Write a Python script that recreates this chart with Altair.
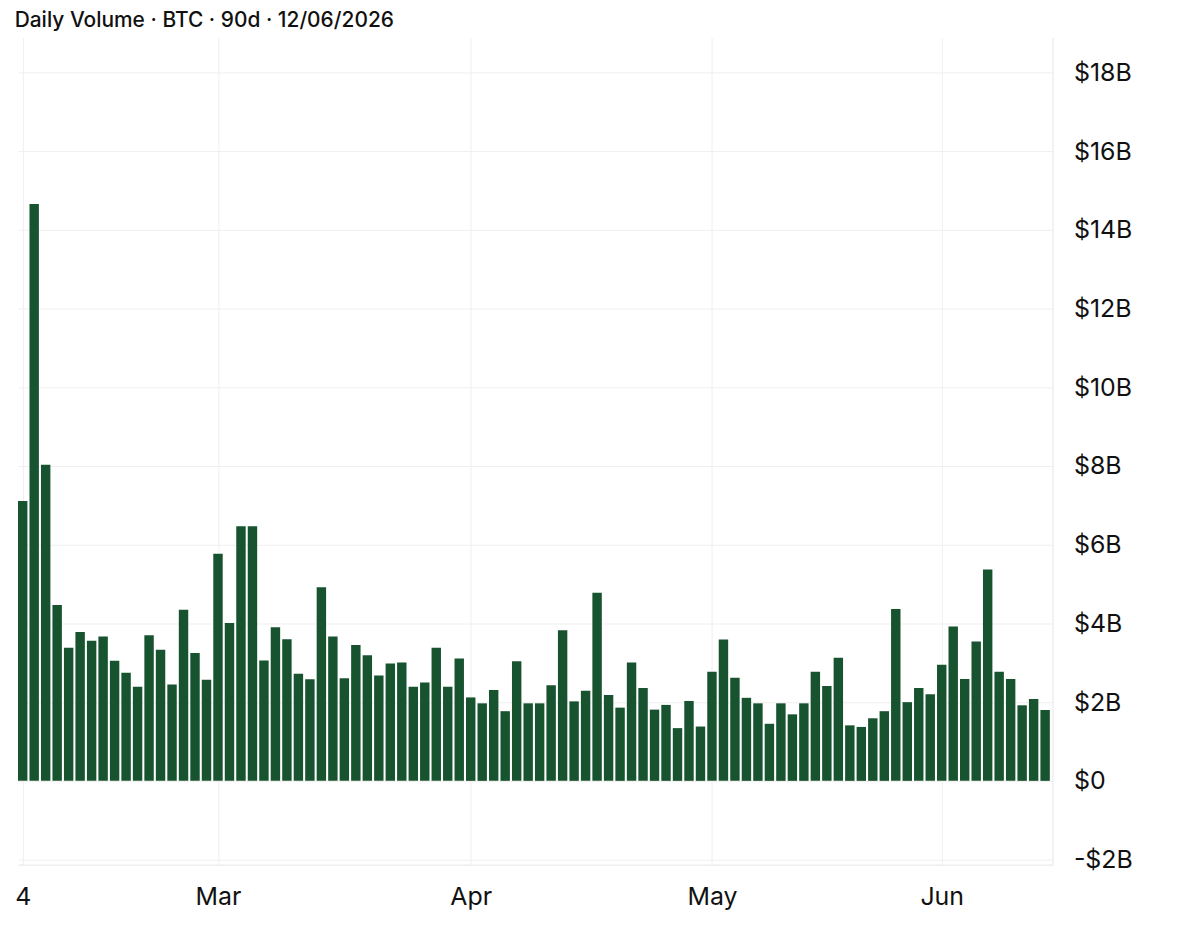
import altair as alt
import pandas as pd

# Daily volume in billions of USD (90 bars)
volumes_b = [
    7.11, 14.66, 8.03, 4.47, 3.38, 3.78, 3.56, 3.67, 3.05, 2.75,
    2.39, 3.70, 3.33, 2.45, 4.35, 3.25, 2.57, 5.77, 4.01, 6.47,
    6.47, 3.06, 3.90, 3.60, 2.72, 2.58, 4.92, 3.67, 2.61, 3.45,
    3.19, 2.68, 2.98, 3.01, 2.39, 2.50, 3.38, 2.39, 3.11, 2.12,
    1.97, 2.31, 1.77, 3.04, 1.97, 1.97, 2.43, 3.83, 2.02, 2.29,
    4.78, 2.18, 1.86, 3.01, 2.36, 1.81, 1.93, 1.34, 2.03, 1.38,
    2.77, 3.59, 2.62, 2.11, 1.97, 1.45, 1.97, 1.69, 1.97, 2.77,
    2.41, 3.13, 1.41, 1.37, 1.59, 1.77, 4.37, 2.00, 2.36, 2.20,
    2.95, 3.92, 2.59, 3.54, 5.37, 2.77, 2.59, 1.92, 2.08, 1.80,
]
day_index = list(range(len(volumes_b)))

x_tick_index = [0, 17, 39, 60, 80]
x_tick_labels = ["4", "Mar", "Apr", "May", "Jun"]
y_tick_values = [-2, 0, 2, 4, 6, 8, 10, 12, 14, 16, 18]

title_text = "Daily Volume · BTC · 90d · 12/06/2026"

df = pd.DataFrame({"idx": day_index, "vol": volumes_b})

label_expr = "''"
for v, lab in zip(reversed(x_tick_index), reversed(x_tick_labels)):
    label_expr = f"datum.value == {v} ? '{lab}' : ({label_expr})"

y_label_expr = ("datum.value == 0 ? '$0' : (datum.value < 0 ? '-$' + abs(datum.value) + 'B'"
                " : '$' + datum.value + 'B')")

FONT = "Inter"
GRID = "#efefef"

chart = (
    alt.Chart(df)
    .transform_calculate(x0="datum.idx - 0.41", x1="datum.idx + 0.41")
    .mark_bar(color="#17532f")
    .encode(
        x=alt.X(
            "x0:Q",
            scale=alt.Scale(domain=[-0.412, 89.64], nice=False, zero=False),
            axis=alt.Axis(
                values=x_tick_index,
                labelExpr=label_expr,
                title=None,
                grid=True,
                gridColor=GRID,
                domainColor="#e6e6e6",
                ticks=False,
                labelFontSize=25,
                labelFont=FONT,
                labelColor="#111111",
                labelPadding=20,
                labelFlush=False,
                labelOverlap=False,
            ),
        ),
        x2="x1:Q",
        y=alt.Y(
            "vol:Q",
            scale=alt.Scale(domain=[-2.13, 18.89], nice=False, zero=False),
            axis=alt.Axis(
                orient="right",
                values=y_tick_values,
                labelExpr=y_label_expr,
                title=None,
                grid=True,
                gridColor=GRID,
                domainColor="#e6e6e6",
                ticks=False,
                labelFontSize=25,
                labelFont=FONT,
                labelColor="#111111",
                labelPadding=21,
                labelOverlap=False,
            ),
        ),
        y2=alt.datum(0),
    )
    .properties(
        width=1038,
        height=830,
        title=alt.TitleParams(
            text=title_text,
            anchor="start",
            font=FONT,
            fontSize=21,
            fontWeight=500,
            color="#111111",
            offset=7,
        ),
        autosize=alt.AutoSizeParams(type="none"),
        padding={"left": 10, "top": 28, "right": 140, "bottom": 70},
    )
    .configure(background="white")
    .configure_view(strokeWidth=0, stroke="transparent")
)

chart.save("out.html", embed_options={"renderer": "svg", "actions": False})
